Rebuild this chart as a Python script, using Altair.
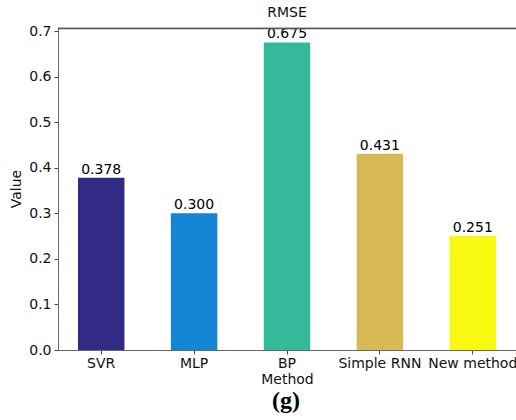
import altair as alt
import pandas as pd

methods = ["SVR", "MLP", "BP", "Simple RNN", "New method"]
values = [0.378, 0.300, 0.675, 0.431, 0.251]
labels = ["0.378", "0.300", "0.675", "0.431", "0.251"]
colors = ["#332a85", "#1484d4", "#35b99b", "#d8ba55", "#f8f810"]
y_ticks = [0.0, 0.1, 0.2, 0.3, 0.4, 0.5, 0.6, 0.7]
y_max = 0.709
frame_top = [0.7055]

df = pd.DataFrame({"Method": methods, "Value": values, "Label": labels})

FONT = "DejaVu Sans"

x_enc = alt.X(
    "Method:N",
    sort=methods,
    scale=alt.Scale(paddingInner=0.5, paddingOuter=0.215),
    axis=alt.Axis(
        title="Method", labelAngle=0, labelFontSize=14, titleFontSize=14,
        titleFontWeight="normal", labelColor="#111", titleColor="#111",
        tickSize=4, tickColor="#444", domainColor="#666", labelPadding=2,
        titlePadding=2, labelFont=FONT, titleFont=FONT,
    ),
)
y_enc = alt.Y(
    "Value:Q",
    scale=alt.Scale(domain=[0, y_max], nice=False),
    axis=alt.Axis(
        title="Value", values=y_ticks, format=".1f", labelFontSize=14,
        titleFontSize=14, titleFontWeight="normal", labelColor="#111",
        titleColor="#111", tickSize=4, tickColor="#444", domainColor="#666",
        labelPadding=3, titlePadding=5, grid=False, labelFont=FONT, titleFont=FONT,
    ),
)

bars = alt.Chart(df).mark_bar().encode(
    x=x_enc,
    y=y_enc,
    color=alt.Color("Method:N", scale=alt.Scale(domain=methods, range=colors), legend=None),
)

text = alt.Chart(df).mark_text(
    baseline="bottom", dy=-1, fontSize=14, font=FONT, color="#000"
).encode(x=alt.X("Method:N", sort=methods), y="Value:Q", text="Label:N")

top_rule = alt.Chart(pd.DataFrame({"Value": frame_top})).mark_rule(
    color="#555", strokeWidth=1.5
).encode(y="Value:Q")

caption = alt.Chart(pd.DataFrame({"t": ["(g)"]})).mark_text(
    font="Liberation Serif", fontWeight="bold", fontSize=24, color="#000",
    baseline="middle", align="center",
).encode(x=alt.value(228), y=alt.value(374), text="t:N")

chart = (
    alt.layer(bars, text, top_rule, caption)
    .properties(
        width=458,
        height=323,
        title=alt.TitleParams("RMSE", fontSize=14, font=FONT, fontWeight="normal",
                              color="#111", offset=4, anchor="middle"),
        autosize=alt.AutoSizeParams(type="none"),
        padding={"left": 58, "top": 27, "right": 0, "bottom": 70},
    )
    .configure_view(stroke=None)
    .configure(background="white")
)

chart.save("out.html", embed_options={"renderer": "svg", "actions": False})
